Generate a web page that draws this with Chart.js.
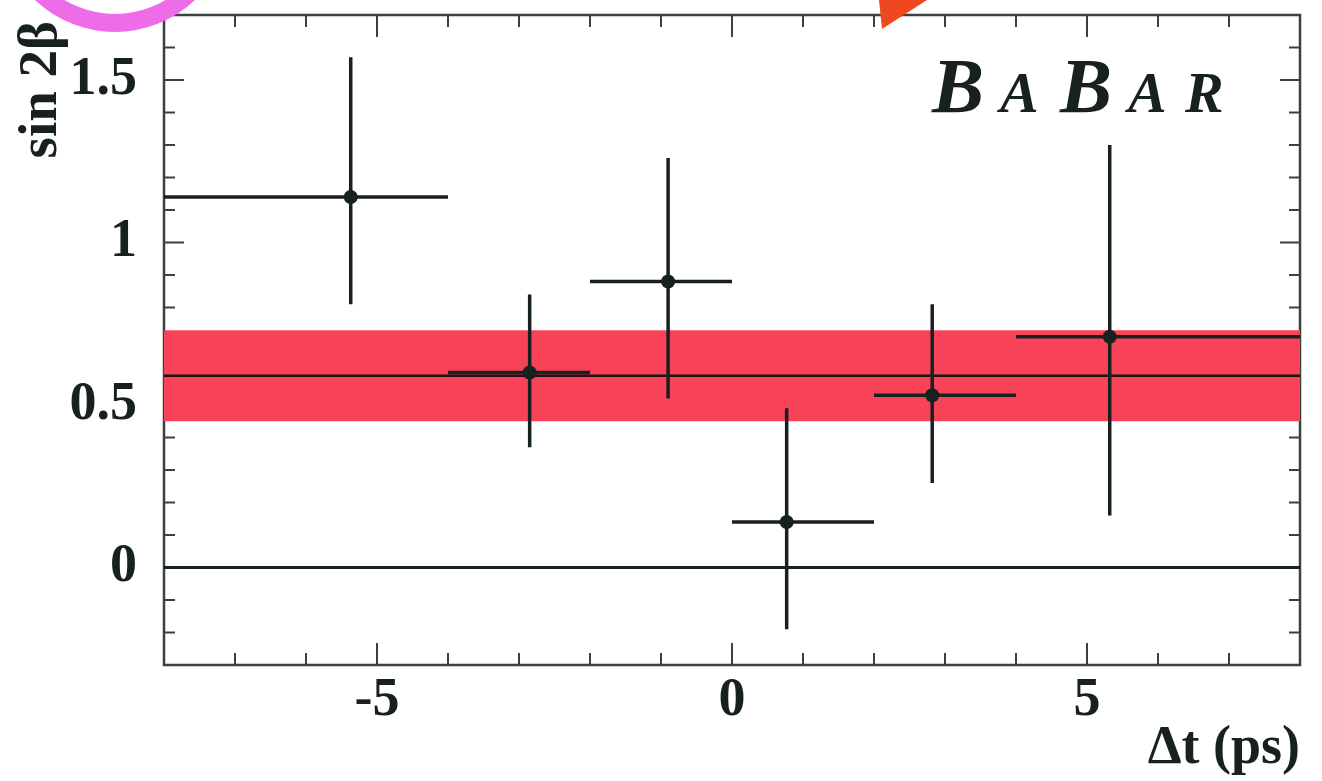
<!DOCTYPE html>
<html>
<head>
<meta charset="utf-8">
<title>sin 2β vs Δt</title>
<script src="https://cdn.jsdelivr.net/npm/chart.js@4/dist/chart.umd.min.js"></script>
<style>
  html, body { margin: 0; padding: 0; background: #ffffff; }
  #wrap { width: 1322px; height: 781px; position: relative; }
</style>
</head>
<body>
<div id="wrap"><canvas id="asymChart"></canvas></div>
<script>
// sin2beta measured in bins of delta t
const dtCenters = [-5.37, -2.85, -0.90, 0.77, 2.82, 5.32];
const binLow    = [-8, -4, -2, 0, 2, 4];
const binHigh   = [-4, -2, 0, 2, 4, 8];
const sin2b     = [1.14, 0.60, 0.88, 0.14, 0.53, 0.71];
const errPlus   = [0.43, 0.24, 0.38, 0.35, 0.28, 0.59];
const errMinus  = [0.33, 0.23, 0.36, 0.33, 0.27, 0.55];

// global fit result and its error band
const fitValue = 0.59;
const fitError = 0.14;

const xRange = [-8, 8];
const yRange = [-0.3, 1.7];

const ink = '#17211f';
const serif = "'Liberation Serif', 'DejaVu Serif', serif";

function seg(x0, y0, x1, y1) {
  return {
    type: 'line',
    data: [{x: x0, y: y0}, {x: x1, y: y1}],
    borderColor: ink,
    borderWidth: 3.5,
    pointRadius: 0,
    order: 1
  };
}

const hBars = dtCenters.map((_, i) => seg(binLow[i], sin2b[i], binHigh[i], sin2b[i]));
const vBars = dtCenters.map((x, i) => seg(x, sin2b[i] - errMinus[i], x, sin2b[i] + errPlus[i]));

const datasets = [
  {
    type: 'scatter',
    data: dtCenters.map((x, i) => ({x: x, y: sin2b[i]})),
    backgroundColor: ink,
    borderWidth: 0,
    pointRadius: 7,
    order: 0
  },
  ...hBars,
  ...vBars,
  {
    type: 'line',
    data: xRange.map(x => ({x: x, y: fitValue})),
    borderColor: '#1b1214',
    borderWidth: 2.5,
    pointRadius: 0,
    order: 2
  },
  {
    type: 'line',
    data: xRange.map(x => ({x: x, y: 0})),
    borderColor: ink,
    borderWidth: 3,
    pointRadius: 0,
    order: 2
  },
  {
    type: 'line',
    data: xRange.map(x => ({x: x, y: fitValue + fitError})),
    borderWidth: 0,
    pointRadius: 0,
    backgroundColor: 'rgb(248, 66, 88)',
    fill: {value: fitValue - fitError},
    order: 3
  }
];

function stroke(ctx, x0, y0, x1, y1) {
  ctx.beginPath();
  ctx.moveTo(x0, y0);
  ctx.lineTo(x1, y1);
  ctx.stroke();
}

// frame with inward ticks on all four sides
const frameTicks = {
  id: 'frameTicks',
  beforeDatasetsDraw(chart) {
    const {ctx, chartArea: a, scales: {x, y}} = chart;
    ctx.save();
    ctx.strokeStyle = '#3b4040';
    ctx.lineWidth = 2;
    x.ticks.forEach(t => {
      if (t.value <= xRange[0] || t.value >= xRange[1]) return;
      const px = x.getPixelForValue(t.value);
      const len = Math.abs(t.value % 5) < 1e-6 ? 22 : 12;
      stroke(ctx, px, a.bottom, px, a.bottom - len);
      stroke(ctx, px, a.top, px, a.top + len);
    });
    y.ticks.forEach(t => {
      if (t.value <= yRange[0] + 1e-6 || t.value >= yRange[1] - 1e-6) return;
      const py = y.getPixelForValue(t.value);
      const len = Math.round(t.value * 10) % 5 === 0 ? 20 : 11;
      stroke(ctx, a.left, py, a.left + len, py);
      stroke(ctx, a.right, py, a.right - len, py);
    });
    ctx.lineWidth = 2.5;
    ctx.strokeRect(a.left, a.top, a.right - a.left, a.bottom - a.top);
    ctx.restore();
  },
  afterDraw(chart) {
    const {ctx, chartArea: a} = chart;
    ctx.save();
    ctx.fillStyle = ink;

    // y axis title, rotated, ending a little below the frame top
    ctx.save();
    ctx.translate(42, a.top + 6);
    ctx.rotate(-Math.PI / 2);
    ctx.font = 'bold 55px ' + serif;
    ctx.textAlign = 'right';
    ctx.textBaseline = 'middle';
    ctx.fillText('sin 2β', 0, 0);
    ctx.restore();

    // experiment logo
    ctx.textBaseline = 'alphabetic';
    const letters = [['B', 932, 78], ['A', 1000, 58], ['B', 1060, 78], ['A', 1128, 58], ['R', 1185, 58]];
    letters.forEach(([ch, lx, size]) => {
      ctx.font = 'italic bold ' + size + 'px ' + serif;
      ctx.fillText(ch, lx, 112);
    });

    // highlight ring and pointer drawn over the figure
    ctx.strokeStyle = 'rgb(238, 108, 232)';
    ctx.lineWidth = 18;
    ctx.beginPath();
    ctx.arc(115, -84, 107, 0, Math.PI);
    ctx.stroke();
    ctx.fillStyle = 'rgb(240, 72, 30)';
    ctx.beginPath();
    ctx.moveTo(882, 29);
    ctx.lineTo(879, 0);
    ctx.lineTo(927, 0);
    ctx.closePath();
    ctx.fill();
    ctx.restore();
  }
};

new Chart(document.getElementById('asymChart'), {
  type: 'scatter',
  data: {datasets: datasets},
  options: {
    responsive: true,
    maintainAspectRatio: false,
    animation: false,
    events: [],
    layout: {padding: {left: 0, top: 15, right: 22, bottom: 0}},
    plugins: {legend: {display: false}, tooltip: {enabled: false}},
    scales: {
      x: {
        type: 'linear',
        min: xRange[0],
        max: xRange[1],
        afterFit: s => { s.height = 116; s.paddingLeft = 0; s.paddingRight = 0; },
        grid: {display: false, drawTicks: false},
        border: {display: false},
        ticks: {
          stepSize: 1,
          autoSkip: false,
          maxRotation: 0,
          padding: 4,
          color: ink,
          font: {family: serif, size: 54, weight: 'bold'},
          callback: v => (Math.abs(v % 5) < 1e-6 && Math.abs(v) < 8 ? String(v) : '')
        },
        title: {
          display: true,
          text: 'Δt (ps)',
          align: 'end',
          color: ink,
          padding: {top: 0, bottom: 0},
          font: {family: serif, size: 54, weight: 'bold'}
        }
      },
      y: {
        type: 'linear',
        min: yRange[0],
        max: yRange[1],
        afterFit: s => { s.width = 164; s.paddingTop = 0; s.paddingBottom = 0; },
        grid: {display: false, drawTicks: false},
        border: {display: false},
        ticks: {
          stepSize: 0.1,
          autoSkip: false,
          padding: 27,
          color: ink,
          font: {family: serif, size: 54, weight: 'bold'},
          callback: v => {
            const k = Math.round(v * 10);
            return k % 5 === 0 && k >= 0 && k <= 15 ? String(k / 10) : '';
          }
        }
      }
    }
  },
  plugins: [frameTicks]
});
</script>
</body>
</html>
